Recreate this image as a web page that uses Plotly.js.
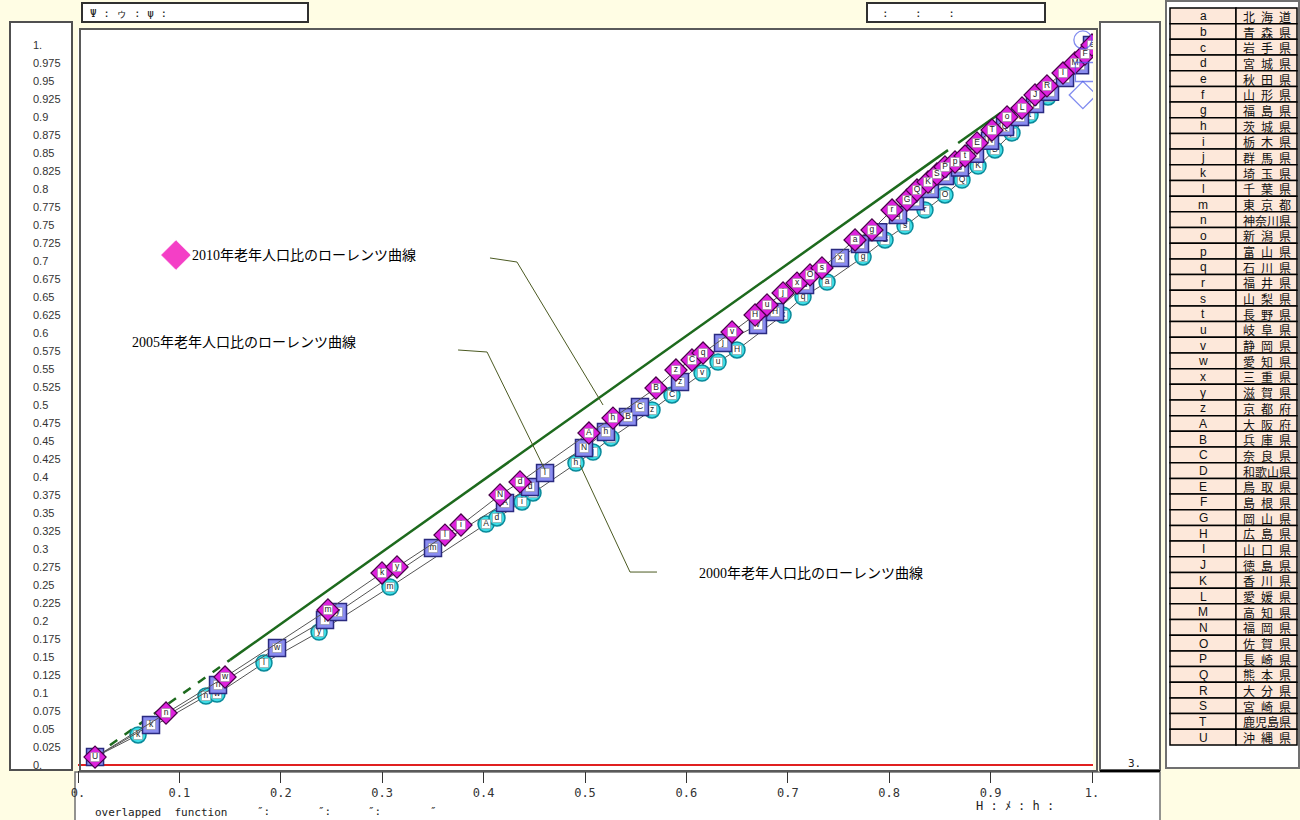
<!DOCTYPE html>
<html><head><meta charset="utf-8">
<script src="https://cdn.plot.ly/plotly-3.0.1.min.js"></script>
<style>html,body{margin:0;padding:0;background:#fffde4;overflow:hidden}#chart{width:1300px;height:820px}</style>
</head><body><div id="chart"></div>
<script>
// ---------------- data ----------------
const x2000 = [0.0168,0.0592,0.1262,0.1371,0.1834,0.2377,0.3077,0.4024,0.4132,0.4379,0.4487,0.4911,0.5079,0.5256,0.5661,0.5858,0.6154,0.6312,0.6499,0.6953,0.715,0.7387,0.7742,0.7959,0.8156,0.8353,0.855,0.8718,0.8876,0.9043,0.9211,0.9389,0.9566,0.9734,0.9882,1.0];
const y2000 = [0.011,0.0417,0.0958,0.0986,0.1417,0.1847,0.2472,0.3347,0.3431,0.3653,0.3778,0.4194,0.4347,0.4542,0.4931,0.5139,0.5444,0.5597,0.5764,0.625,0.65,0.6708,0.7056,0.7292,0.7486,0.7708,0.7917,0.8125,0.8319,0.8542,0.8778,0.9028,0.9278,0.9542,0.9792,1.0];
const lab2000 = ['U','k','n','w','l','y','m','A','d','i','N','h','j','B','z','C','v','u','H','x','q','a','g','G','s','r','O','Q','K','S','p','t','P','L','E','e'];

const x2005 = [0.0168,0.072,0.1381,0.1963,0.2436,0.2564,0.3501,0.4211,0.4458,0.4606,0.499,0.5207,0.5424,0.5542,0.5937,0.6361,0.6706,0.6874,0.717,0.7515,0.7712,0.789,0.8087,0.8254,0.8402,0.855,0.8698,0.8846,0.8994,0.9142,0.929,0.9438,0.9586,0.9734,0.9882,1.0];
const y2005 = [0.011,0.0556,0.1111,0.1625,0.2014,0.2125,0.3014,0.3639,0.3861,0.4056,0.4403,0.4625,0.4833,0.4972,0.5319,0.5861,0.6111,0.6292,0.6667,0.7042,0.7236,0.74,0.764,0.783,0.80,0.818,0.83,0.849,0.867,0.886,0.90,0.918,0.935,0.9542,0.972,1.0];
const lab2005 = ['U','k','n','w','l','y','m','A','d','i','N','h','B','C','z','j','v','H','u','x','S','a','q','G','g','O','s','r','K','Q','t','p','T','J','I','e'];

const x2010 = [0.0168,0.0868,0.145,0.2465,0.2998,0.3146,0.3619,0.3777,0.4162,0.4359,0.5039,0.5276,0.570,0.5897,0.6055,0.6164,0.645,0.6677,0.6795,0.6953,0.7091,0.7219,0.7337,0.7663,0.783,0.8028,0.8176,0.8274,0.8383,0.8471,0.855,0.8649,0.8748,0.8866,0.9014,0.9162,0.931,0.9438,0.9556,0.9714,0.9832,0.9931,1.0];
const y2010 = [0.011,0.0722,0.1222,0.2153,0.2667,0.275,0.3194,0.3333,0.375,0.3931,0.4611,0.4819,0.5236,0.5486,0.5625,0.5722,0.6014,0.625,0.6389,0.6556,0.6694,0.6806,0.6903,0.7292,0.7431,0.7708,0.7847,0.7986,0.8097,0.8208,0.8306,0.8375,0.8458,0.8639,0.8819,0.9,0.9125,0.9306,0.9431,0.9611,0.975,0.9875,1.0];
const lab2010 = ['U','n','w','m','k','y','l','i','N','d','A','h','B','z','C','q','v','H','u','j','x','O','s','a','g','r','G','Q','K','S','P','p','t','E','T','o','L','J','R','I','M','F','e'];

// equality (diagonal) reference line
const eqDashX = [0.017,0.15];
const eqDashY = [0.013,0.146];
const eqSolidX = [0.15,0.858,null,0.868,0.91];
const eqSolidY = [0.146,0.854,null,0.864,0.906];

// hollow markers at the top right
const endX = [0.991,0.993,0.991];
const endY = [1.007,0.9625,0.9306];
const endSym = ['circle-open','square-open','diamond-open'];

// legend icon for the 2010 label
const iconX = [0.0966];
const iconY = [0.7083];

// tick labels
const xTickVals = [0,0.1,0.2,0.3,0.4,0.5,0.6,0.7,0.8,0.9,1];
const xTickText = ['0.','0.1','0.2','0.3','0.4','0.5','0.6','0.7','0.8','0.9','1.'];
const yTickVals = [0,0.025,0.05,0.075,0.1,0.125,0.15,0.175,0.2,0.225,0.25,0.275,0.3,0.325,0.35,0.375,0.4,0.425,0.45,0.475,0.5,0.525,0.55,0.575,0.6,0.625,0.65,0.675,0.7,0.725,0.75,0.775,0.8,0.825,0.85,0.875,0.9,0.925,0.95,0.975,1];
const yTickText = ['0.','0.025','0.05','0.075','0.1','0.125','0.15','0.175','0.2','0.225','0.25','0.275','0.3','0.325','0.35','0.375','0.4','0.425','0.45','0.475','0.5','0.525','0.55','0.575','0.6','0.625','0.65','0.675','0.7','0.725','0.75','0.775','0.8','0.825','0.85','0.875','0.9','0.925','0.95','0.975','1.'];

// prefecture code table
const prefCodes = ['a','b','c','d','e','f','g','h','i','j','k','l','m','n','o','p','q','r','s','t','u','v','w','x','y','z','A','B','C','D','E','F','G','H','I','J','K','L','M','N','O','P','Q','R','S','T','U'];
const prefNames = ['北 海 道','青 森 県','岩 手 県','宮 城 県','秋 田 県','山 形 県','福 島 県','茨 城 県','栃 木 県','群 馬 県','埼 玉 県','千 葉 県','東 京 都','神奈川県','新 潟 県','富 山 県','石 川 県','福 井 県','山 梨 県','長 野 県','岐 阜 県','静 岡 県','愛 知 県','三 重 県','滋 賀 県','京 都 府','大 阪 府','兵 庫 県','奈 良 県','和歌山県','鳥 取 県','島 根 県','岡 山 県','広 島 県','山 口 県','徳 島 県','香 川 県','愛 媛 県','高 知 県','福 岡 県','佐 賀 県','長 崎 県','熊 本 県','大 分 県','宮 崎 県','鹿児島県','沖 縄 県'];

// ---------------- layout helpers ----------------
const W = 1300, H = 820;
const px = v => v / W;
const py = v => 1 - v / H;
const X0 = 78, XS = 1014, Y0 = 765, YS = 720;
const xr = [(78 - X0) / XS, (1093 - X0) / XS];
const yr = [(Y0 - 770) / YS, (Y0 - 30) / YS];

const CJK = 'Liberation Serif, Noto Sans CJK JP, sans-serif';
const MONO = 'DejaVu Sans Mono, monospace';

function seriesTrace(xs, ys, sym, size, fill, edge, ew) {
  return {type:'scatter', mode:'lines+markers', x:xs, y:ys, hoverinfo:'skip',
    line:{color:'#555555', width:1},
    marker:{symbol:sym, size:size, color:fill, line:{color:edge, width:ew}}};
}
function labelTrace(xs, ys, labs) {
  return {type:'scatter', mode:'markers+text', x:xs, y:ys, text:labs, hoverinfo:'skip',
    marker:{symbol:'square', size:9, color:'#ffffff', line:{color:'#888888', width:0.5}},
    textposition:'middle center', textfont:{family:'Liberation Sans, sans-serif', size:8.5, color:'#222222'}};
}

const traces = [
  {type:'scatter', mode:'lines', x:eqDashX, y:eqDashY, hoverinfo:'skip', line:{color:'#1d6a1d', width:2.5, dash:'dash'}},
  {type:'scatter', mode:'lines', x:eqSolidX, y:eqSolidY, hoverinfo:'skip', line:{color:'#1d6a1d', width:2.5}},
  seriesTrace(x2000, y2000, 'circle', 16, '#3fdde6', '#0a8a9a', 1.5),
  labelTrace(x2000, y2000, lab2000),
  seriesTrace(x2005, y2005, 'square', 17, '#8a8cf0', '#2a2a80', 1.5),
  labelTrace(x2005, y2005, lab2005),
  seriesTrace(x2010, y2010, 'diamond', 17, '#de22de', '#4a004a', 1.2),
  labelTrace(x2010, y2010, lab2010),
  {type:'scatter', mode:'markers', x:iconX, y:iconY, hoverinfo:'skip', cliponaxis:false,
    marker:{symbol:'diamond', size:22, color:'#f43fc6', line:{color:'#f43fc6', width:1}}},
  {type:'scatter', mode:'markers', x:endX, y:endY, yaxis:'y2', hoverinfo:'skip',
    marker:{symbol:endSym, size:[18,19,21], color:'#4a5ae8', line:{width:1.3}}}
];

function box(x0, y0, x1, y1, fill, col, w, layer) {
  return {type:'rect', xref:'paper', yref:'paper', x0:px(x0), x1:px(x1), y0:py(y1), y1:py(y0),
    fillcolor:fill, line:{color:col, width:w}, layer:layer || 'below'};
}
function leader(d) {
  return {type:'path', xref:'x', yref:'y', path:d, line:{color:'#4b5a22', width:1}, layer:'above'};
}
function note(text, x, y, font, anchor) {
  return {xref:'paper', yref:'paper', x:px(x), y:py(y), text:text, showarrow:false,
    xanchor:anchor || 'left', yanchor:'middle', font:font};
}

const shapes = [
  box(10, 22, 72, 770, '#ffffff', '#505050', 2),
  box(82, 3, 308, 22, '#ffffff', '#303030', 2),
  box(867, 3, 1045, 22, '#ffffff', '#303030', 2),
  box(1100, 22, 1160, 770, '#ffffff', '#606060', 2),
  box(75, 772, 1160, 823, '#ffffff', '#707070', 1.5),
  box(1166, 1, 1299, 768, '#ffffff', '#707070', 2),
  box(80, 29, 1097, 771, 'rgba(0,0,0,0)', '#5a5a5a', 2, 'above'),
  {type:'line', xref:'paper', yref:'paper', x0:px(1100), x1:px(1160), y0:py(771), y1:py(771), line:{color:'#000', width:2}},
  leader('M 0.4063,0.7042 L 0.4329,0.6986 L 0.5178,0.5'),
  leader('M 0.3748,0.5764 L 0.4034,0.5736 L 0.4606,0.4097'),
  leader('M 0.571,0.268 L 0.5444,0.268 L 0.4951,0.4167')
];

const annotations = [
  note('2010年老年人口比のローレンツ曲線', 190, 255, {family:CJK, size:14, color:'#000'}),
  note('2005年老年人口比のローレンツ曲線', 130, 343, {family:CJK, size:14, color:'#000'}),
  note('2000年老年人口比のローレンツ曲線', 697, 573, {family:CJK, size:14, color:'#000'}),
  note('Ψ : ゥ : ψ :', 88, 13, {family:MONO, size:11, color:'#222'}),
  note(':    :    :', 880, 13, {family:MONO, size:11, color:'#222'}),
  note('overlapped  function', 93, 812, {family:MONO, size:11, color:'#222'}),
  note('″:', 255, 811, {family:MONO, size:11, color:'#222'}),
  note('″:', 316, 811, {family:MONO, size:11, color:'#222'}),
  note('″:', 366, 811, {family:MONO, size:11, color:'#222'}),
  note('″', 428, 811, {family:MONO, size:11, color:'#222'}),
  note('H : ﾒ : h :', 974, 806, {family:MONO, size:12, color:'#222'}),
  note('3.', 1126, 763, {family:MONO, size:11, color:'#222'})
];

// prefecture table built from the arrays: cells as rectangles, texts as annotations
const T_TOP = 8, ROW = 15.68, C0 = 1170, C1 = 1236, C2 = 1297;
prefCodes.forEach((code, i) => {
  const top = T_TOP + i * ROW, bot = top + ROW, mid = top + ROW / 2 + 0.5;
  shapes.push(box(C0, top, C1, bot, '#fde8da', '#000000', 1.5));
  shapes.push(box(C1, top, C2, bot, '#fde8da', '#000000', 1.5));
  annotations.push(note(code, (C0 + C1) / 2, mid, {family:'Liberation Sans, sans-serif', size:12, color:'#111'}, 'center'));
  annotations.push(note(prefNames[i].replace(/ /g, '\u2002'), (C1 + C2) / 2, mid,
    {family:'Noto Sans CJK JP, sans-serif', size:12, color:'#111'}, 'center'));
});

const layout = {
  width:W, height:H, margin:{l:0, r:0, t:0, b:0},
  paper_bgcolor:'#fffde4', plot_bgcolor:'#ffffff', showlegend:false,
  xaxis:{domain:[px(78), px(1093)], range:xr, tickvals:xTickVals, ticktext:xTickText,
    ticks:'outside', ticklen:12, tickwidth:1, tickcolor:'#333', showgrid:false, zeroline:false, showline:false,
    tickfont:{family:MONO, size:12, color:'#333'}, fixedrange:true},
  yaxis:{domain:[py(770), py(30)], range:yr, showticklabels:false, ticks:'', showgrid:false,
    zeroline:true, zerolinecolor:'#e02020', zerolinewidth:2, showline:false, fixedrange:true},
  yaxis2:{overlaying:'y', anchor:'free', position:px(32), side:'right', range:yr,
    tickvals:yTickVals, ticktext:yTickText, ticks:'', showgrid:false, zeroline:false, showline:false,
    tickfont:{family:'Liberation Sans Narrow, Liberation Sans, sans-serif', size:11, color:'#333'}, fixedrange:true},
  shapes:shapes, annotations:annotations
};

Plotly.newPlot('chart', traces, layout, {staticPlot:true, displayModeBar:false});
</script>
</body></html>
